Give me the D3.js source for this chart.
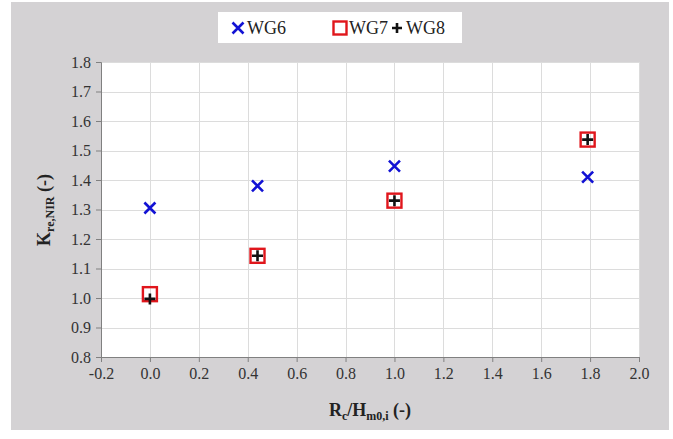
<!DOCTYPE html>
<html>
<head>
<meta charset="utf-8">
<script src="https://cdn.jsdelivr.net/npm/d3@7"></script>
<style>
  html, body { margin: 0; padding: 0; background: #fff; }
  svg text { font-family: 'Liberation Serif', 'Times New Roman', serif !important; }
</style>
</head>
<body>
<svg id="chart" width="673" height="439"></svg>
<script>
// Relative freeboard Rc/Hm0,i for each test
const rcHm0 = [0.0, 0.44, 1.0, 1.79];
// Reflection coefficient ratio per wave gauge
const wg6 = [1.305, 1.38, 1.447, 1.41];
const wg7 = [1.013, 1.143, 1.33, 1.537];
const wg8 = [0.997, 1.143, 1.33, 1.537];
const seriesNames = ["WG6", "WG7", "WG8"];
const xTicks = [-0.2, 0.0, 0.2, 0.4, 0.6, 0.8, 1.0, 1.2, 1.4, 1.6, 1.8, 2.0];
const yTicks = [0.8, 0.9, 1.0, 1.1, 1.2, 1.3, 1.4, 1.5, 1.6, 1.7, 1.8];

const svg = d3.select("#chart");
const plot = { left: 101, right: 639, top: 62, bottom: 357 };
const FONT = "'Liberation Serif', 'Times New Roman', serif";

// Panel background
svg.append("rect").attr("x", 11).attr("y", 2).attr("width", 658).attr("height", 428)
  .attr("fill", "#d4d2d4");

const x = d3.scaleLinear().domain([-0.2, 2.0]).range([plot.left, plot.right]);
const y = d3.scaleLinear().domain([0.8, 1.8]).range([plot.bottom, plot.top]);

svg.append("rect").attr("x", plot.left).attr("y", plot.top)
  .attr("width", plot.right - plot.left).attr("height", plot.bottom - plot.top)
  .attr("fill", "#ffffff");

// Gridlines
const grid = svg.append("g").attr("stroke", "#dcdcdc").attr("stroke-width", 1);
grid.selectAll(".gx").data(xTicks.slice(1)).join("line")
  .attr("x1", d => Math.round(x(d)) + 0.5).attr("x2", d => Math.round(x(d)) + 0.5)
  .attr("y1", plot.top).attr("y2", plot.bottom);
grid.selectAll(".gy").data(yTicks.slice(1)).join("line")
  .attr("y1", d => Math.round(y(d)) + 0.5).attr("y2", d => Math.round(y(d)) + 0.5)
  .attr("x1", plot.left).attr("x2", plot.right);

// Axes (hyphen-minus for negative labels)
const fmt = d => d3.format(".1f")(d).replace("\u2212", "-");
const xAxis = svg.append("g").attr("transform", `translate(0,${plot.bottom})`)
  .call(d3.axisBottom(x).tickValues(xTicks).tickFormat(fmt).tickSize(5).tickPadding(6));
const yAxis = svg.append("g").attr("transform", `translate(${plot.left},0)`)
  .call(d3.axisLeft(y).tickValues(yTicks).tickFormat(fmt).tickSize(5).tickPadding(5));
[xAxis, yAxis].forEach(a => {
  a.attr("font-family", FONT).attr("font-size", 16);
  a.select(".domain").attr("stroke", "#808080");
  a.selectAll(".tick line").attr("stroke", "#808080");
  a.selectAll(".tick text").attr("fill", "#333").style("font-family", FONT).style("font-size", "16px");
});

// Axis titles
const xt = svg.append("text").attr("x", 370).attr("y", 416).attr("text-anchor", "middle")
  .style("font-family", FONT).attr("font-size", 18).attr("font-weight", "bold").attr("fill", "#222");
xt.append("tspan").text("R");
xt.append("tspan").text("c").attr("font-size", 12).attr("dy", 4);
xt.append("tspan").text("/H").attr("dy", -4);
xt.append("tspan").text("m0,i").attr("font-size", 12).attr("dy", 4);
xt.append("tspan").text(" (-)").attr("dy", -4);

const yt = svg.append("text").attr("transform", "translate(50,210) rotate(-90)")
  .attr("text-anchor", "middle").style("font-family", FONT).attr("font-size", 18)
  .attr("font-weight", "bold").attr("fill", "#222");
yt.append("tspan").text("K");
yt.append("tspan").text("re,NIR").attr("font-size", 12).attr("dy", 4);
yt.append("tspan").text(" (-)").attr("dy", -4);

// Marker drawers
function drawCross(g, cx, cy, s) {
  g.append("path").attr("d", `M${cx - s},${cy - s}L${cx + s},${cy + s}M${cx - s},${cy + s}L${cx + s},${cy - s}`)
    .attr("stroke", "#1212d4").attr("stroke-width", 2.6).attr("fill", "none");
}
function drawSquare(g, cx, cy, s) {
  g.append("rect").attr("x", cx - s).attr("y", cy - s).attr("width", 2 * s).attr("height", 2 * s)
    .attr("stroke", "#e0161c").attr("stroke-width", 2.4).attr("fill", "none");
}
function drawPlus(g, cx, cy, s) {
  g.append("path").attr("d", `M${cx - s},${cy}L${cx + s},${cy}M${cx},${cy - s}L${cx},${cy + s}`)
    .attr("stroke", "#111").attr("stroke-width", 2.6).attr("fill", "none");
}

const marks = svg.append("g");
rcHm0.forEach((v, i) => drawSquare(marks, x(v), y(wg7[i]), 7));
rcHm0.forEach((v, i) => drawPlus(marks, x(v), y(wg8[i]), 5.5));
rcHm0.forEach((v, i) => drawCross(marks, x(v), y(wg6[i]), 5.5));

// Legend
const lg = svg.append("g");
lg.append("rect").attr("x", 218).attr("y", 12).attr("width", 244).attr("height", 31).attr("fill", "#fff");
const legendItems = [
  { name: seriesNames[0], mx: 238, draw: drawCross, s: 5.5 },
  { name: seriesNames[1], mx: 340, draw: drawSquare, s: 6.5 },
  { name: seriesNames[2], mx: 397, draw: drawPlus, s: 5 }
];
legendItems.forEach(it => {
  it.draw(lg, it.mx, 28, it.s);
  lg.append("text").attr("x", it.mx + 9).attr("y", 34).style("font-family", FONT)
    .attr("font-size", 18).attr("fill", "#222").text(it.name);
});
</script>
</body>
</html>
